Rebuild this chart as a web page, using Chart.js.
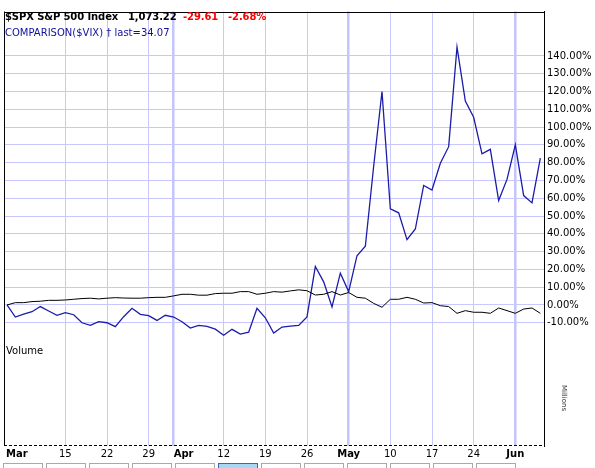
<!DOCTYPE html>
<html><head><meta charset="utf-8">
<script src="https://cdn.jsdelivr.net/npm/chart.js@4.4.0/dist/chart.umd.min.js"></script>
<style>
html,body{margin:0;padding:0;background:#fff;}
#wrap{position:relative;width:595px;height:468px;overflow:hidden;}
canvas{position:absolute;left:0;top:0;}
.t{position:absolute;font-family:"DejaVu Sans";font-size:10px;line-height:12px;white-space:nowrap;}
.b{font-weight:bold;letter-spacing:-0.1px;}
.btn{position:absolute;top:463px;width:38px;height:12px;border:1px solid #a9a9a9;background:#fff;box-sizing:content-box;}
.btn.on{border-color:#2a6fb8;background:#a9d6f2;}
#mil{position:absolute;font-family:"DejaVu Sans";font-size:7px;line-height:8px;color:#333;width:40px;text-align:center;transform:rotate(90deg);transform-origin:50% 50%;}
</style></head><body>
<div id="wrap">
<canvas id="c" width="595" height="468"></canvas>
<div class="t b" style="left:5px;top:11px;color:#000">$SPX S&amp;P 500 Index</div>
<div class="t b" style="left:128px;top:11px;color:#000">1,073.22</div>
<div class="t b" style="left:183px;top:11px;color:#ff0000">-29.61</div>
<div class="t b" style="left:228px;top:11px;color:#ff0000">-2.68%</div>
<div class="t" style="left:5px;top:27px;color:#1010a0">COMPARISON($VIX) † last=34.07</div>
<div class="t" style="left:6px;top:344.5px;color:#000">Volume</div>
<div id="mil" style="left:543.5px;top:394px;">Millions</div>
<div id="btns"></div>
</div>
<script>
// trading days shown (Mar 4 – Jun 4, 2010)
const dates = [
 'Mar 4','Mar 5','Mar 8','Mar 9','Mar 10','Mar 11','Mar 12','Mar 15','Mar 16','Mar 17','Mar 18','Mar 19',
 'Mar 22','Mar 23','Mar 24','Mar 25','Mar 26','Mar 29','Mar 30','Mar 31',
 'Apr 1','Apr 5','Apr 6','Apr 7','Apr 8','Apr 9','Apr 12','Apr 13','Apr 14','Apr 15','Apr 16',
 'Apr 19','Apr 20','Apr 21','Apr 22','Apr 23','Apr 26','Apr 27','Apr 28','Apr 29','Apr 30',
 'May 3','May 4','May 5','May 6','May 7','May 10','May 11','May 12','May 13','May 14',
 'May 17','May 18','May 19','May 20','May 21','May 24','May 25','May 26','May 27','May 28',
 'Jun 1','Jun 2','Jun 3','Jun 4'
];
// $VIX comparison, % change from first day
const vixPct = [
 0,-6.8,-5.1,-3.8,-0.9,-3.4,-5.8,-4.3,-5.5,-10,-11.5,-9.4,
 -10,-12.2,-6.6,-1.9,-5.3,-6.0,-8.7,-5.8,
 -6.8,-9.4,-13,-11.5,-12,-13.6,-17,-13.7,-16.4,-15.3,-1.9,
 -7.2,-15.8,-12.4,-11.9,-11.5,-6.7,21.6,13,-1.1,17.9,
 7.5,27.7,33,78,120,54,51.8,36.7,42.7,67.2,
 64.6,79.7,89,145,114.6,105.5,85,87.5,58.7,70.6,
 90,61.5,57.4,82.5
];
// $SPX, % change from first day
const spxPct = [
 0,1.3,1.3,1.9,2.1,2.6,2.6,2.8,3.2,3.6,3.8,3.4,
 3.8,4.1,3.9,3.8,3.8,4.1,4.3,4.3,
 5.1,6.0,6.0,5.5,5.5,6.4,6.6,6.6,7.5,7.5,6.0,
 6.6,7.5,7.2,7.9,8.5,8.0,5.6,6.0,7.5,5.6,
 7.0,4.3,3.8,0.9,-1.3,3.2,3.2,4.3,3.2,1.1,
 1.3,-0.4,-0.9,-4.7,-3.2,-4.1,-4.1,-4.7,-1.7,-3.2,
 -4.7,-2.3,-1.7,-4.7
];
const yTicks = [-10,0,10,20,30,40,50,60,70,80,90,100,110,120,130,140];
const xTickDates = ['Mar 15','Mar 22','Mar 29','Apr 1','Apr 12','Apr 19','Apr 26','May 3','May 10','May 17','May 24','Jun 1'];
const xTickText  = ['15','22','29','Apr','12','19','26','May','10','17','24','Jun'];
const monthTicks = ['Apr','May','Jun'];
const firstMonth = 'Mar';

const xTickIdx = xTickDates.map(d => dates.indexOf(d));
const monthIdx = xTickIdx.filter((v,k) => monthTicks.includes(xTickText[k]));

// buttons row (UI strip at bottom)
const btns = document.getElementById('btns');
for (let k = 0; k < 12; k++) {
  const d = document.createElement('div');
  d.className = 'btn' + (k === 5 ? ' on' : '');
  d.style.left = (3 + 43 * k) + 'px';
  btns.appendChild(d);
}

const framePlugin = {
  id: 'frame',
  afterDraw(chart) {
    const {ctx, chartArea: a} = chart;
    const xs = chart.scales.x;
    ctx.save();
    ctx.strokeStyle = '#000';
    ctx.lineWidth = 1;
    ctx.beginPath();
    ctx.moveTo(Math.round(a.left) + 0.5, a.top);
    ctx.lineTo(Math.round(a.left) + 0.5, a.bottom);
    ctx.moveTo(a.left, Math.round(a.top) + 0.5);
    ctx.lineTo(a.right, Math.round(a.top) + 0.5);
    ctx.stroke();
    ctx.setLineDash([3, 2]);
    ctx.beginPath();
    ctx.moveTo(a.left, Math.round(a.bottom) - 0.5);
    ctx.lineTo(a.right, Math.round(a.bottom) - 0.5);
    ctx.stroke();
    ctx.setLineDash([]);
    // x labels
    const base = a.bottom + 10.5;
    ctx.fillStyle = '#000';
    ctx.textBaseline = 'alphabetic';
    ctx.font = 'bold 10px "DejaVu Sans"';
    ctx.textAlign = 'left';
    ctx.fillText(firstMonth, a.left + 2, base);
    xTickIdx.forEach((v, k) => {
      const txt = xTickText[k];
      const isMonth = monthTicks.includes(txt);
      ctx.font = (isMonth ? 'bold ' : '') + '10px "DejaVu Sans"';
      ctx.textAlign = txt === 'Apr' ? 'left' : 'center';
      ctx.fillText(txt, xs.getPixelForValue(v), base);
    });
    ctx.restore();
  }
};

new Chart(document.getElementById('c'), {
  type: 'line',
  data: {
    datasets: [
      { label: '$SPX', data: spxPct.map((v, i) => ({x: i, y: v})), borderColor: '#000000', borderWidth: 1, pointRadius: 0, tension: 0 },
      { label: '$VIX', data: vixPct.map((v, i) => ({x: i, y: v})), borderColor: '#1c1caa', borderWidth: 1.3, pointRadius: 0, tension: 0 }
    ]
  },
  options: {
    responsive: false,
    animation: false,
    layout: { padding: { left: 4, top: 11.5, right: 0, bottom: 0 } },
    plugins: { legend: { display: false }, tooltip: { enabled: false } },
    scales: {
      x: {
        type: 'linear', min: -0.36, max: 64.44,
        afterBuildTicks(s) { s.ticks = xTickIdx.map(v => ({value: v})); },
        afterFit(s) { s.height = 22; },
        ticks: { display: false, autoSkip: false },
        grid: {
          color: c => (c.tick && monthIdx.includes(c.tick.value)) ? '#c4c4ff' : '#c8c8ff',
          lineWidth: c => (c.tick && monthIdx.includes(c.tick.value)) ? 2.5 : 1,
          drawTicks: false
        },
        border: { display: false }
      },
      y: {
        position: 'right', min: -79.3, max: 165,
        afterBuildTicks(s) { s.ticks = yTicks.map(v => ({value: v})); },
        afterFit(s) { s.width = 51; },
        ticks: { padding: 3, autoSkip: false, color: '#000', font: { family: 'DejaVu Sans', size: 10 },
                 callback: v => v.toFixed(2) + '%' },
        grid: { color: '#c8c8ff', lineWidth: 1, drawTicks: false },
        border: { display: true, color: '#000', width: 1 }
      }
    }
  },
  plugins: [framePlugin]
});
</script>
</body></html>
